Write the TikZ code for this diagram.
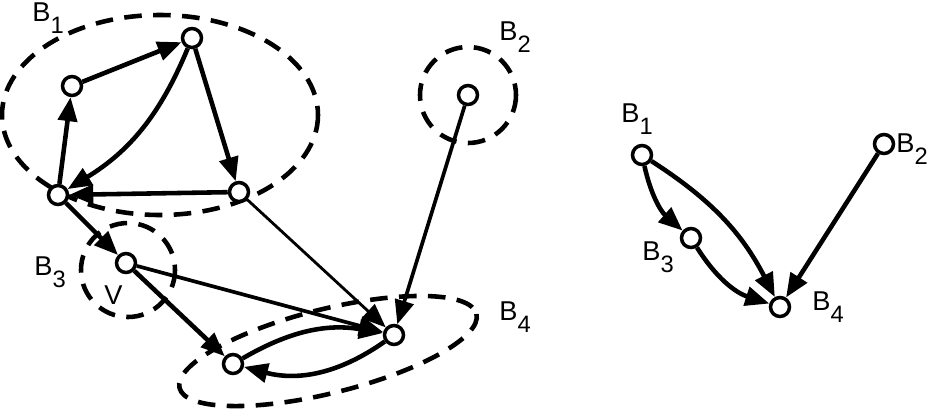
\documentclass[tikz,border=0pt]{standalone}
\usepackage{fontspec}
\setmainfont{Liberation Sans}
\usetikzlibrary{arrows.meta,shapes,positioning,calc}
\newcommand{\bsub}[1]{B\raisebox{-7pt}{\fontsize{13.5}{13.5}\selectfont #1}}

\begin{document}
\begin{tikzpicture}[x=0.02cm,y=-0.02cm,>={Triangle[length=0.48cm,width=0.38cm]},
  vtx/.style={circle,draw,line width=2pt,fill=white,minimum size=0.38cm,inner sep=0pt},
  lab/.style={anchor=base west,inner sep=0pt,font=\fontsize{15.5}{18}\selectfont},
  blk/.style={line width=2.6pt,dash pattern=on 10pt off 6.5pt},
  thk/.style={line width=2.6pt,->},
  med/.style={line width=2.1pt,->},
  thn/.style={line width=1.6pt,->}]
\useasboundingbox (0,0) rectangle (931,417);
% blocks
\draw[blk] (160,115) ellipse [x radius=158,y radius=100];
\draw[blk] (468,95) circle [radius=48];
\draw[blk] (128,270) circle [radius=47];
\draw[blk,rotate around={14:(328,351)}] (328,351) ellipse [x radius=153,y radius=42];
% left graph
\node[vtx] (a) at (72,86) {};
\node[vtx] (b) at (192,38) {};
\node[vtx] (c) at (58,195) {};
\node[vtx] (d) at (239,192) {};
\node[vtx] (e) at (468,95) {};
\node[vtx] (v) at (126,263) {};
\node[vtx] (f) at (394,335) {};
\node[vtx] (g) at (233,364) {};
\draw[thk] (c) -- (a);
\draw[thk] (a) -- (b);
\draw[thk] (b) -- (d);
\draw[thk] (d) -- (c);
\draw[thk] (b) to[bend left=18] (c);
\draw[thk] (c) -- (v);
\draw[thn] (d) -- (f);
\draw[med] (e) -- (f);
\draw[med] (v) -- (f);
\draw[thk] (v) -- (g);
\draw[thk] (g) to[bend left=20] (f);
\draw[thk] (f) to[bend left=25] (g);
\node[lab] (lb1) at (32,21) {\bsub{1}};
\node[lab] (lb2) at (499,40) {\bsub{2}};
\node[lab] (lb3) at (34,275) {\bsub{3}};
\node[lab] (lv) at (104,304) {V};
\node[lab] (lb4) at (499,320) {\bsub{4}};
% reduced graph
\node[vtx] (r1) at (642,155) {};
\node[vtx] (r2) at (884,144) {};
\node[vtx] (r3) at (691,238) {};
\node[vtx] (r4) at (780,307) {};
\draw[thk] (r1) to[bend right=18] (r3);
\draw[thk] (r1) to[bend left=15] (r4);
\draw[thk] (r3) to[bend right=20] (r4);
\draw[thk] (r2) -- (r4);
\node[lab] (rb1) at (621,122) {\bsub{1}};
\node[lab] (rb2) at (896,152) {\bsub{2}};
\node[lab] (rb3) at (642,260) {\bsub{3}};
\node[lab] (rb4) at (812,310) {\bsub{4}};
\end{tikzpicture}
\end{document}
